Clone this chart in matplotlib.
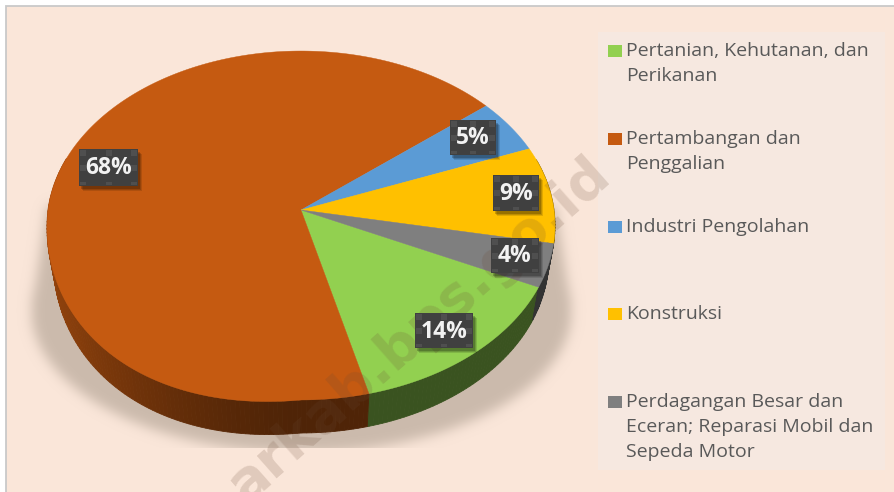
import numpy as np
import matplotlib
matplotlib.use('Agg')
import matplotlib.pyplot as plt
from matplotlib.patches import Rectangle

W, H = 894, 492
BG = '#fae6d9'

categories = ['Pertanian, Kehutanan, dan\nPerikanan', 'Pertambangan dan\nPenggalian', 'Industri Pengolahan',
              'Konstruksi', 'Perdagangan Besar dan\nEceran; Reparasi Mobil dan\nSepeda Motor']
values = [14, 68, 5, 9, 4]
colors = ['#92d050', '#c55a11', '#5b9bd5', '#ffc000', '#7f7f7f']
pct_labels = ['14%', '68%', '5%', '9%', '4%']

# label boxes: left, top, width, height in pixels
label_boxes = [(415, 313, 58, 35), (79, 149, 59, 37), (450, 120, 46, 35), (493, 175, 46, 36), (491, 238, 48, 35)]
legend_y = [51, 139, 227, 314, 402]

# pie geometry, tilted disc with a little perspective
CX, CY = 301, 210
A, B, K = 253, 173.1, 0.0888
DEPTH = 33
START = 115.4
BULGE = 26      # the lower left of the disc hangs a bit lower in the picture


def rim(theta_deg, squeeze=1.0):
    t = np.radians(theta_deg)
    u, v = np.sin(t), np.cos(t)
    d = 1 + K * v
    lift = BULGE * np.clip(-u, 0, None) * np.clip(-v, 0, None)
    return CX + squeeze * A * u / d, CY - B * v / d + lift


def blur(arr, sigma):
    n = int(sigma * 3)
    k = np.exp(-0.5 * (np.arange(-n, n + 1) / sigma) ** 2)
    k /= k.sum()
    arr = np.apply_along_axis(lambda m: np.convolve(m, k, mode='same'), 0, arr)
    return np.apply_along_axis(lambda m: np.convolve(m, k, mode='same'), 1, arr)


fig = plt.figure(figsize=(W / 100, H / 100), dpi=100, facecolor='white')
ax = fig.add_axes([0, 0, 1, 1])
ax.set_xlim(0, W)
ax.set_ylim(H, 0)
ax.axis('off')

# background and frame, the frame runs off the right and bottom edges
ax.add_patch(Rectangle((6, 6), W + 10, H + 10, fc=BG, ec='#c9c9c9', lw=1.3, zorder=0))
ax.add_patch(Rectangle((598, 32), 287, 438, fc='#f6e8e0', ec='none', zorder=1))

# soft shadow below the pie
yy, xx = np.mgrid[0:H, 0:W]
sh = (((xx - CX) / 270.0) ** 2 + ((yy - 310) / 142.0) ** 2 <= 1).astype(float)
cone = (yy > 205) & (yy < 310) & (np.abs(xx - CX) < 254 + (yy - 205) * 16 / 105)
sh[cone] = 1
sh = blur(sh, 6)
sh[yy > 447] = 0
rgba = np.zeros((H, W, 4))
rgba[..., 0], rgba[..., 1], rgba[..., 2] = 203 / 255, 186 / 255, 172 / 255
rgba[..., 3] = sh
ax.imshow(rgba, extent=(0, W, H, 0), zorder=2, aspect='auto', interpolation='bilinear')
ax.set_xlim(0, W)
ax.set_ylim(H, 0)

# wedges
edges = START + np.cumsum([0] + values) * 3.6
for i, col in enumerate(colors):
    th = np.arange(edges[i], edges[i + 1], 1.0)
    th = np.append(th, edges[i + 1])
    base = np.array(matplotlib.colors.to_rgb(col))

    # side wall, the bottom rim is a little narrower so the wall tapers out at the ends
    for t0, t1 in zip(th[:-1], th[1:]):
        mid = (t0 + t1) / 2
        u, v = np.sin(np.radians(mid)), np.cos(np.radians(mid))
        if v > 0.3:
            continue
        f = 0.4 + 0.35 * max(0, -u) ** 1.5
        x0, y0 = rim(t0)
        x1, y1 = rim(t1)
        bx0, by0 = rim(t0, 0.975)
        bx1, by1 = rim(t1, 0.975)
        ax.fill([x0, x1, bx1, bx0], [y0, y1, by1 + DEPTH, by0 + DEPTH], color=base * f, lw=0.6, zorder=3)

    x, y = rim(th)
    ax.fill(np.r_[CX, x], np.r_[CY, y], color=col, lw=0.3, zorder=4)

# watermark, cut by the bottom edge as in the source picture
ax.text(420, 330, 'arkab.bps.go.id', rotation=41.5, rotation_mode='anchor', ha='center', va='center', fontsize=40,
        fontweight='bold', color='#6b4a35', alpha=0.18, zorder=5)

# value labels
for (l, t, w, h), txt in zip(label_boxes, pct_labels):
    for s, a in ((5, 0.12), (4, 0.15), (3, 0.2)):
        ax.add_patch(Rectangle((l + s - 1, t + s), w, h, fc='black', ec='none', alpha=a, zorder=6))
    ax.add_patch(Rectangle((l, t), w, h, fc='#404040', ec='none', zorder=7))
    for hx in (0, 0.5, 1):
        for hy, hh in ((0, 6), (0.5, 6), (1, 3)):
            if hx == 0.5 and hy == 0.5:
                continue
            ax.add_patch(Rectangle((l + 1 + hx * (w - 8), t + 1 + hy * (h - 8) + (6 - hh)), 6, hh, fc='#4f4f4f',
                                   ec='none', zorder=8))
    ax.text(l + w / 2, t + h / 2 + 1, txt, color='#f2f2f2', fontsize=16.5, fontweight='bold', ha='center',
            va='center', family='Open Sans', zorder=9)

# legend
for name, col, y in zip(categories, colors, legend_y):
    ax.add_patch(Rectangle((608, y - 6), 14, 12, fc=col, ec='none', zorder=3))
    for j, line in enumerate(name.split('\n')):
        ax.text(626, y + j * 25.2, line, color='#595959', fontsize=14, family='Open Sans', ha='left',
                va='center', zorder=3)

fig.savefig('out.png', dpi=100, facecolor='white')
